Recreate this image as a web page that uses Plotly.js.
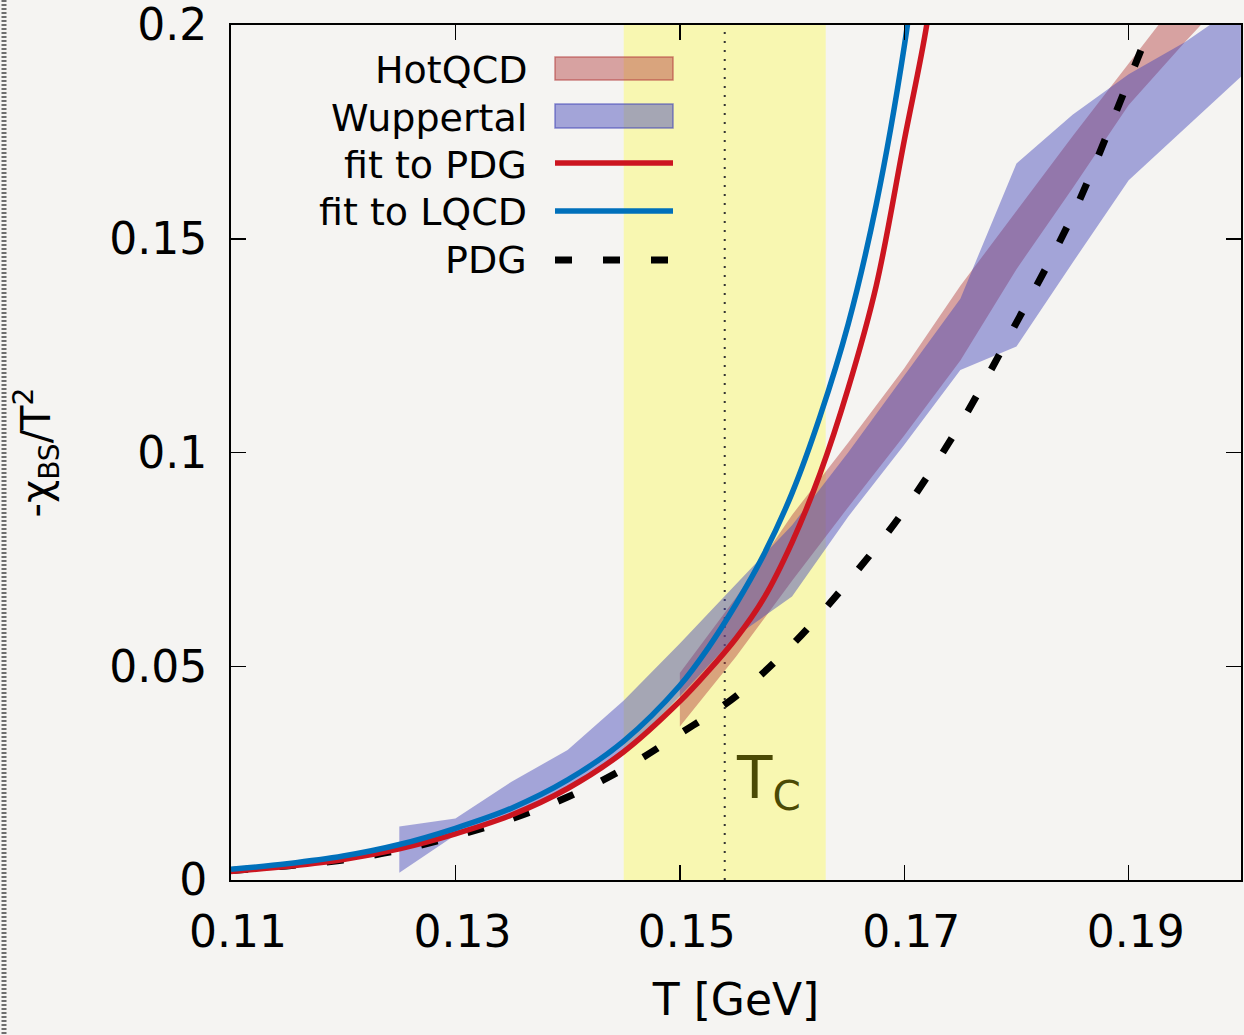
<!DOCTYPE html>
<html>
<head>
<meta charset="utf-8">
<script src="https://cdn.plot.ly/plotly-3.0.1.min.js"></script>
<style>html,body{margin:0;padding:0;background:#f5f4f2;}</style>
</head>
<body>
<div id="chart" style="width:1244px;height:1035px;"></div>
<script>
// ---- Data ----
// Wuppertal band (lattice QCD)
const wuppT     = [0.125,0.130,0.135,0.140,0.145,0.150,0.155,0.160,0.165,0.170,0.175,0.180,0.185,0.190,0.195,0.200];
const wuppUpper = [0.0125,0.0144,0.0230,0.0304,0.0420,0.0553,0.0692,0.0830,0.1000,0.1180,0.1360,0.1676,0.1790,0.1885,0.1960,0.2050];
const wuppLower = [0.0017,0.0105,0.0150,0.0213,0.0295,0.0430,0.0570,0.0663,0.0850,0.1018,0.1193,0.1248,0.1444,0.1637,0.1758,0.1879];
// HotQCD band
const hotT      = [0.150,0.155,0.160,0.165,0.170,0.175,0.180,0.185,0.190,0.195,0.200];
const hotUpper  = [0.0484,0.0660,0.0854,0.1023,0.1197,0.1390,0.1565,0.1740,0.1910,0.2080,0.2250];
const hotLower  = [0.0359,0.0522,0.0700,0.0872,0.1040,0.1215,0.1429,0.1618,0.1813,0.1960,0.2100];
// fit to LQCD (blue)
const fitLQCD_T = [0.110,0.115,0.120,0.125,0.130,0.135,0.140,0.145,0.150,0.1525,0.155,0.1575,0.160,0.1625,0.165,0.1675,0.170,0.1715];
const fitLQCD   = [0.0025,0.0038,0.0056,0.0083,0.0121,0.0168,0.0234,0.0325,0.0455,0.0542,0.0645,0.0762,0.0905,0.1085,0.1300,0.1580,0.1950,0.2250];
// fit to PDG (red)
const fitPDG_T  = [0.110,0.115,0.120,0.125,0.130,0.135,0.140,0.145,0.150,0.1525,0.155,0.1575,0.160,0.1625,0.165,0.1675,0.170,0.172,0.173];
const fitPDG    = [0.0020,0.0032,0.0048,0.0073,0.0108,0.0152,0.0214,0.0300,0.0418,0.0488,0.0565,0.0660,0.0790,0.0951,0.1150,0.1390,0.1730,0.2000,0.2200];
// PDG (dashed black)
const pdgT      = [0.110,0.115,0.120,0.125,0.130,0.135,0.140,0.145,0.150,0.155,0.160,0.165,0.170,0.175,0.180,0.185,0.190,0.195];
const pdg       = [0.0022,0.0033,0.0047,0.0070,0.0103,0.0143,0.0194,0.0260,0.0342,0.0430,0.0550,0.0698,0.0865,0.1067,0.1304,0.1555,0.1870,0.2200];
// Crossover region and Tc
const crossover = [0.145, 0.163];
const Tc = 0.154;
// Axis ticks
const xTicks = [0.11,0.13,0.15,0.17,0.19];
const xTickText = ['0.11','0.13','0.15','0.17','0.19'];
const yTicks = [0,0.05,0.1,0.15,0.2];
const yTickText = ['0','0.05','0.1','0.15','0.2'];
// Legend
const legendNames = ['HotQCD','Wuppertal','fit to PDG','fit to LQCD','PDG'];

// ---- Styles ----
const bg = '#f5f4f2';
const hotFill = 'rgba(180,62,62,0.45)';
const wuppFill = 'rgba(65,66,184,0.45)';
const redC = '#cc1520';
const blueC = '#0070bb';
const FONT = 'DejaVu Sans, Verdana, sans-serif';
const LW = 5.5;

function band(T, lo, hi, color) {
  return {
    x: T.concat(T.slice().reverse()),
    y: hi.concat(lo.slice().reverse()),
    type: 'scatter', mode: 'lines', fill: 'toself',
    fillcolor: color, line: {width: 0, color: 'rgba(0,0,0,0)'},
    hoverinfo: 'skip'
  };
}

const traces = [
  band(hotT, hotLower, hotUpper, hotFill),
  band(wuppT, wuppLower, wuppUpper, wuppFill),
  {x: pdgT, y: pdg, type:'scatter', mode:'lines',
   line:{color:'#000', width:7, dash:'17px,31px', shape:'spline', smoothing:1}},
  {x: fitPDG_T, y: fitPDG, type:'scatter', mode:'lines',
   line:{color:redC, width:LW, shape:'spline', smoothing:1}},
  {x: fitLQCD_T, y: fitLQCD, type:'scatter', mode:'lines',
   line:{color:blueC, width:LW, shape:'spline', smoothing:1}}
];

// Manual legend (text left, key right, as in the reference)
const L = 231, R = 1241, TOP = 25, BOT = 880;
const px2x = p => (p - L) / (R - L);
const py2y = p => (BOT - p) / (BOT - TOP);
const rowY = [70, 118, 165, 212, 260];
const keyX0 = px2x(555), keyX1 = px2x(673);

const annotations = legendNames.map((n, i) => ({
  text: n, xref:'paper', yref:'paper', x: px2x(529), y: py2y(rowY[i]),
  xanchor:'right', yanchor:'middle', showarrow:false,
  font:{family:FONT, size:38, color:'#000'}
}));
annotations.push({
  text:'T<sub>C</sub>', xref:'x', yref:'paper', x: Tc + 0.0008, y: py2y(782),
  xanchor:'left', yanchor:'middle', showarrow:false,
  font:{family:FONT, size:58, color:'#4b4a05'}
});

const shapes = [
  {type:'rect', xref:'x', yref:'paper', x0:crossover[0], x1:crossover[1], y0:0, y1:1,
   fillcolor:'#f8f7b1', line:{width:0}, layer:'below'},
  {type:'line', xref:'x', yref:'paper', x0:Tc, x1:Tc, y0:0, y1:1,
   line:{color:'#333', width:2, dash:'2px,7px'}, layer:'below'},
  // legend keys
  {type:'rect', xref:'paper', yref:'paper', x0:keyX0, x1:keyX1, y0:py2y(80), y1:py2y(57),
   fillcolor:hotFill, line:{color:'rgba(180,62,62,0.6)', width:1.5}},
  {type:'rect', xref:'paper', yref:'paper', x0:keyX0, x1:keyX1, y0:py2y(128), y1:py2y(104),
   fillcolor:wuppFill, line:{color:'rgba(65,66,184,0.6)', width:1.5}},
  {type:'line', xref:'paper', yref:'paper', x0:keyX0, x1:keyX1, y0:py2y(163), y1:py2y(163),
   line:{color:redC, width:LW}},
  {type:'line', xref:'paper', yref:'paper', x0:keyX0, x1:keyX1, y0:py2y(211), y1:py2y(211),
   line:{color:blueC, width:LW}},
  {type:'line', xref:'paper', yref:'paper', x0:keyX0, x1:keyX1, y0:py2y(260), y1:py2y(260),
   line:{color:'#000', width:7, dash:'17px,31px'}},
  // dotted edge at the far left of the picture
  {type:'line', xref:'paper', yref:'paper', x0:px2x(4), x1:px2x(4), y0:py2y(0), y1:py2y(1035),
   line:{color:'#6e6e6e', width:5, dash:'2px,2px'}}
];

const axisCommon = {
  ticks:'inside', ticklen:15, tickwidth:1.5, tickcolor:'#000',
  showline:true, linewidth:2, linecolor:'#000', mirror:'ticks',
  showgrid:false, zeroline:false, ticklabeloverflow:'allow',
  tickfont:{family:FONT, size:44, color:'#000'}
};

const layout = {
  width:1244, height:1035,
  paper_bgcolor:bg, plot_bgcolor:bg,
  margin:{l:231, r:3, t:25, b:155},
  showlegend:false,
  font:{family:FONT, color:'#000'},
  xaxis: Object.assign({}, axisCommon, {
    range:[0.11, 0.20001], tickmode:'array', tickvals:xTicks,
    ticktext:xTickText.map(s => '\u00a0' + s),
    ticklabelstandoff: 12,
    title:{text:'T [GeV]', font:{family:FONT, size:44, color:'#000'}, standoff:28}
  }),
  yaxis: Object.assign({}, axisCommon, {
    range:[0, 0.20001], tickmode:'array', tickvals:yTicks, ticktext:yTickText,
    ticklabelstandoff: 13,
    title:{text:'-χ<sub>BS</sub>/T<sup>2</sup>', font:{family:FONT, size:40, color:'#000'}, standoff:46}
  }),
  shapes: shapes,
  annotations: annotations
};

Plotly.newPlot('chart', traces, layout, {displayModeBar:false, staticPlot:true});
</script>
</body>
</html>
